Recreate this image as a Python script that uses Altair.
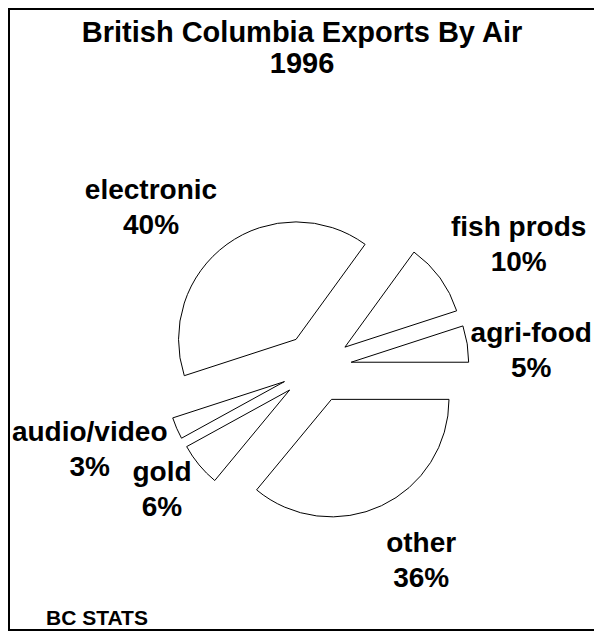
import math
import altair as alt
import pandas as pd

# ---- data ----
categories = ["agri-food", "fish prods", "electronic", "audio/video", "gold", "other"]
shares = [5, 10, 40, 3, 6, 36]
title_lines = ["British Columbia Exports By Air", "1996"]
source_note = "BC STATS"

# ---- layout / style ----
W, H = 586, 623
CX, CY = 308.6, 359.7          # pie centre (pixels in the view)
R = 117.5                      # pie radius
EXPLODE = 35                   # distance every slice is pulled out
LABEL_R = 165                  # label anchor distance from centre
FONT = "Liberation Sans"
LABEL_SIZE = 28
LINE_H = 35
TITLE_X = 294

total = sum(shares)
rows = []
cum = 0
for i, (name, v) in enumerate(zip(categories, shares)):
    # pie drawn counter-clockwise from 3 o'clock
    a0 = 2.5 * math.pi - 2 * math.pi * cum / total
    a1 = a0 - 2 * math.pi * v / total
    cum += v
    m = (a0 + a1) / 2
    s, c = math.sin(m), math.cos(m)
    pct = f"{v}%"
    w = 0.49 * LABEL_SIZE * max(len(name), len(pct))
    ax = CX + LABEL_R * s
    ay = CY - LABEL_R * c
    if c > 0.3:
        vshift = -LINE_H          # label block sits above its anchor
    elif c < -0.7:
        vshift = LINE_H           # label block sits below its anchor
    else:
        vshift = 8 if c < 0 else 0
    lx = ax + math.copysign(w / 2, s)
    lx = min(max(lx, w / 2 + 3), W - w / 2 - 1)
    rows.append(dict(
        order=i, category=name, share=v,
        cx=CX + EXPLODE * s, cy=CY - EXPLODE * c,
        lx=lx, ly=ay + vshift,
        label=f"{name}\n{pct}",
    ))
df = pd.DataFrame(rows)

base = alt.Chart(df)

slices = base.mark_arc(radius=R, fill="white", stroke="black", strokeWidth=1).encode(
    theta=alt.Theta("share:Q", stack=True,
                    scale=alt.Scale(domain=[0, total], range=[2.5 * math.pi, 0.5 * math.pi])),
    order=alt.Order("order:Q"),
    x=alt.X("cx:Q", scale=None),
    y=alt.Y("cy:Q", scale=None),
)

labels = base.mark_text(
    font=FONT, fontSize=LABEL_SIZE, fontWeight="bold", align="center",
    baseline="alphabetic", lineBreak="\n", lineHeight=LINE_H, color="black",
).encode(
    x=alt.X("lx:Q", scale=None),
    y=alt.Y("ly:Q", scale=None),
    text="label:N",
)

title = alt.Chart(pd.DataFrame({"t": ["\n".join(title_lines)]})).mark_text(
    font=FONT, fontSize=29, fontWeight="bold", align="center", baseline="alphabetic",
    lineBreak="\n", lineHeight=31, color="black",
).encode(x=alt.value(TITLE_X), y=alt.value(34), text="t:N")

note = alt.Chart(pd.DataFrame({"t": [source_note]})).mark_text(
    font=FONT, fontSize=21, fontWeight="bold", align="left", baseline="alphabetic",
    color="black",
).encode(x=alt.value(38), y=alt.value(617), text="t:N")

frame_left = alt.Chart(pd.DataFrame({"k": [0]})).mark_rule(color="black", strokeWidth=2).encode(
    x=alt.value(1), y=alt.value(0), y2=alt.value(H))
frame_top = alt.Chart(pd.DataFrame({"k": [0]})).mark_rule(color="black", strokeWidth=2).encode(
    x=alt.value(0), x2=alt.value(W), y=alt.value(1))
frame_bottom = alt.Chart(pd.DataFrame({"k": [0]})).mark_rule(color="black", strokeWidth=2).encode(
    x=alt.value(0), x2=alt.value(W), y=alt.value(H - 1))

chart = alt.layer(
    slices, labels, title, note, frame_left, frame_top, frame_bottom
).properties(
    width=W, height=H, autosize=alt.AutoSizeParams(type="none"), padding=0,
    background="white",
).configure_view(stroke=None)

chart.save("out.html", embed_options={"renderer": "svg", "actions": False})
